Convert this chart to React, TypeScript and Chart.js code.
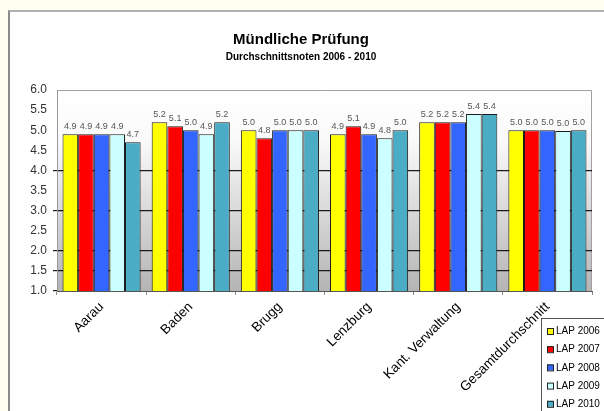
import React, { useEffect, useRef } from "react";
import { Chart, registerables } from "chart.js";

Chart.register(...registerables);

const categories = ["Aarau", "Baden", "Brugg", "Lenzburg", "Kant. Verwaltung", "Gesamtdurchschnitt"];
const seriesNames = ["LAP 2006", "LAP 2007", "LAP 2008", "LAP 2009", "LAP 2010"];
const lap2006 = [4.9, 5.2, 5.0, 4.9, 5.2, 5.0];
const lap2007 = [4.9, 5.1, 4.8, 5.1, 5.2, 5.0];
const lap2008 = [4.9, 5.0, 5.0, 4.9, 5.2, 5.0];
const lap2009 = [4.9, 4.9, 5.0, 4.8, 5.4, 4.98];
const lap2010 = [4.7, 5.2, 5.0, 5.0, 5.4, 5.0];
const seriesColors = ["#FFFF00", "#FF0000", "#3366FF", "#CCFFFF", "#4BACC6"];
const titleText = "Mündliche Prüfung";
const subtitleText = "Durchschnittsnoten 2006 - 2010";
const gridValues = [1.5, 2, 3, 4];
const tickValues = [1, 1.5, 2, 3, 4];

const FONT = "'Liberation Sans', Arial, sans-serif";

export default function App() {
  const ref = useRef<HTMLCanvasElement>(null);

  useEffect(() => {
    const canvas = ref.current!;
    const allSeries = [lap2006, lap2007, lap2008, lap2009, lap2010];

    const bgPlugin = {
      id: "bgPlugin",
      beforeDraw(chart: any) {
        const { ctx, chartArea: a } = chart;
        ctx.save();
        const g = ctx.createLinearGradient(0, a.top, 0, a.bottom);
        g.addColorStop(0, "#ffffff");
        g.addColorStop(0.25, "#fafafa");
        g.addColorStop(1, "#b4b4b4");
        ctx.fillStyle = g;
        ctx.fillRect(a.left, a.top, a.right - a.left, a.bottom - a.top);
        ctx.strokeStyle = "#a0a0a0";
        ctx.lineWidth = 1;
        ctx.beginPath();
        ctx.moveTo(a.left, a.top + 0.5);
        ctx.lineTo(a.right - 0.5, a.top + 0.5);
        ctx.lineTo(a.right - 0.5, a.bottom);
        ctx.stroke();
        ctx.restore();
      },
      afterDatasetsDraw(chart: any) {
        const { ctx } = chart;
        ctx.save();
        ctx.font = `9px ${FONT}`;
        ctx.fillStyle = "#555";
        ctx.textAlign = "center";
        ctx.textBaseline = "bottom";
        chart.data.datasets.forEach((ds: any, i: number) => {
          const meta = chart.getDatasetMeta(i);
          meta.data.forEach((bar: any, j: number) => {
            ctx.fillText(Number(ds.data[j]).toFixed(1), bar.x, bar.y - 3);
          });
        });
        ctx.restore();
      },
      afterDraw(chart: any) {
        const { ctx } = chart;
        ctx.save();
        // titles
        ctx.fillStyle = "#000";
        ctx.textAlign = "center";
        ctx.textBaseline = "middle";
        ctx.font = `bold 15px ${FONT}`;
        ctx.fillText(titleText, 301, 40);
        ctx.font = `bold 10px ${FONT}`;
        ctx.fillText(subtitleText, 301, 57);
        // legend
        const lx = 541, ly = 318;
        ctx.fillStyle = "#fff";
        ctx.fillRect(lx, ly, 80, 110);
        ctx.strokeStyle = "#555";
        ctx.lineWidth = 1;
        ctx.strokeRect(lx + 0.5, ly + 0.5, 80, 110);
        ctx.textAlign = "left";
        ctx.font = `10px ${FONT}`;
        chart.data.datasets.forEach((ds: any, i: number) => {
          const cy = 331 + i * 18.2;
          ctx.fillStyle = ds.backgroundColor;
          ctx.fillRect(547, cy - 3, 6, 6);
          ctx.strokeStyle = "#222";
          ctx.strokeRect(547.5, cy - 2.5, 6, 6);
          ctx.fillStyle = "#000";
          ctx.fillText(ds.label, 556, cy + 0.5);
        });
        ctx.restore();
      },
    };

    const chart = new Chart(canvas, {
      type: "bar",
      data: {
        labels: categories,
        datasets: seriesNames.map((name, i) => ({
          label: name,
          data: allSeries[i],
          backgroundColor: seriesColors[i],
          borderColor: "#1a1a1a",
          borderWidth: 1,
          barPercentage: 1,
          categoryPercentage: 0.876,
        })),
      },
      options: {
        responsive: false,
        animation: false,
        devicePixelRatio: 1,
        layout: { padding: { top: 90, right: 12, bottom: 0, left: 0 } },
        plugins: {
          legend: { display: false },
          title: { display: false },
          tooltip: { enabled: false },
        },
        scales: {
          x: {
            afterFit(scale: any) {
              scale.height = 120;
            },
            grid: {
              drawOnChartArea: false,
              tickLength: 4,
              color: "#888",
            },
            border: { color: "#555", width: 1 },
            ticks: {
              autoSkip: false,
              minRotation: 45,
              maxRotation: 45,
              padding: 4,
              color: "#000",
              font: { family: FONT, size: 13.5 },
            },
          },
          y: {
            min: 1,
            max: 6,
            afterFit(scale: any) {
              scale.width = 57;
            },
            ticks: {
              stepSize: 0.5,
              padding: 6,
              color: "#333",
              font: { family: FONT, size: 12 },
              callback: (v: any) => Number(v).toFixed(1),
            },
            grid: {
              tickLength: 4,
              lineWidth: 1.2,
              color: (c: any) => (gridValues.includes(c.tick?.value) ? "#1a1a1a" : "rgba(0,0,0,0)"),
              tickColor: (c: any) => (tickValues.includes(c.tick?.value) ? "#1a1a1a" : "rgba(0,0,0,0)"),
            },
            border: { color: "#999", width: 1 },
          },
        },
      },
      plugins: [bgPlugin],
    });
    return () => chart.destroy();
  }, []);

  return (
    <div style={{ position: "fixed", left: 0, top: 0, width: 604, height: 411, overflow: "hidden", background: "#FFFEF0" }}>
      <div
        style={{
          position: "absolute",
          left: 8,
          top: 10,
          width: 640,
          height: 440,
          background: "#fff",
          borderLeft: "2px solid #8a8a8a",
          borderTop: "2px solid #b0b0b0",
        }}
      />
      <canvas ref={ref} width={604} height={411} style={{ position: "absolute", left: 0, top: 0, width: 604, height: 411 }} />
    </div>
  );
}
